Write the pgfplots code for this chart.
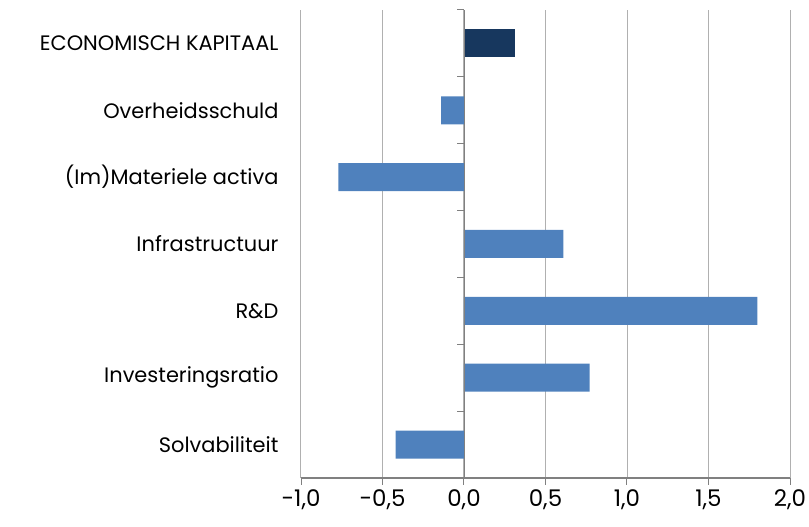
\documentclass[border=0pt]{standalone}
\usepackage{pgfplots}
\pgfplotsset{compat=1.18}
\usetikzlibrary{calc}
\usepackage{fontspec}
\setmainfont{Poppins}

\definecolor{barblue}{HTML}{4F81BD}
\definecolor{barnavy}{HTML}{17375E}
\definecolor{gridgray}{HTML}{B0B0B0}
\definecolor{axgray}{HTML}{808080}

\begin{document}
\begin{tikzpicture}
\begin{axis}[
    scale only axis, clip=false,
    width=489bp, height=468bp,
    xbar, bar width=28bp, bar shift=0pt,
    xmin=-1, xmax=2, ymin=-0.5, ymax=6.5,
    axis x line*=bottom, axis y line*=left,
    x axis line style={draw=none}, y axis line style={draw=none},
    xtick={-1,-0.5,0,0.5,1,1.5,2},
    ytick={0,1,2,3,4,5,6},
    yticklabels={Solvabiliteit, Investeringsratio, R\&D, Infrastructuur,
                 (Im)Materiele activa, Overheidsschuld, ECONOMISCH KAPITAAL},
    xmajorgrids,
    grid style={draw=gridgray, line width=1bp},
    major tick length=0pt,
    tick style={draw=none},
    yticklabel style={font=\fontsize{21}{24}\selectfont, anchor=east, xshift=-19bp},
    xticklabel style={font=\fontsize{23}{26}\selectfont, anchor=north, yshift=-8bp},
    /pgf/number format/assume math mode=true,
    /pgf/number format/.cd, use comma, fixed, fixed zerofill, precision=1,
]
\addplot[fill=barblue, draw=none] coordinates {
    (-0.42,0) (0.77,1) (1.80,2) (0.61,3) (-0.77,4) (-0.14,5)
};
\addplot[fill=barnavy, draw=none] coordinates { (0.31,6) };
\coordinate (bl) at (rel axis cs:0,0);
\coordinate (br) at (rel axis cs:1,0);
\coordinate (tr) at (rel axis cs:1,1);
\coordinate (z0) at (axis cs:0,-0.5);
\coordinate (z1) at (axis cs:0,6.5);
\end{axis}
% bottom axis line with ticks
\draw[axgray, line width=1.2bp] (bl) -- (br);
\foreach \f in {0,1,...,6}{
    \draw[axgray, line width=1bp] ($(bl)!\f/6!(br)$) -- ++(0,-7bp);
}
% y axis line at zero with ticks between categories
\draw[axgray, line width=1bp] (z0) -- (z1);
\foreach \f in {0,1,...,7}{
    \draw[axgray, line width=1bp] ($(z0)!\f/7!(z1)$) -- ++(-7bp,0);
}
\pgfresetboundingbox
\path ([xshift=-301bp,yshift=-49bp]bl) rectangle ([xshift=19bp,yshift=10bp]tr);
\end{tikzpicture}
\end{document}
